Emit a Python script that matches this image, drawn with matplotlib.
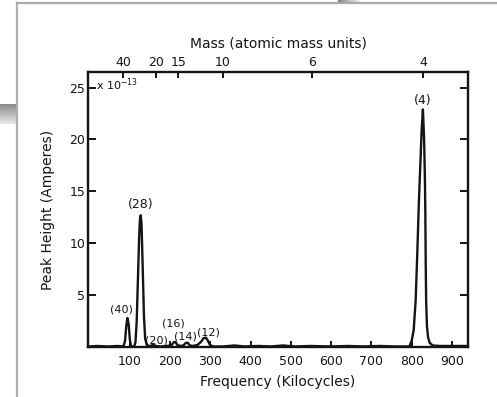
import numpy as np
import matplotlib.pyplot as plt
from matplotlib.lines import Line2D

# trace: frequency (kc) vs peak height (x 1e-13 A)
freq = [-4, 20, 45, 70, 84, 88, 91, 94, 97, 100, 103, 107, 111,
        114, 117, 120, 123, 125, 127, 129, 132, 135, 138, 142, 148,
        153, 158, 164, 175, 190, 203, 209, 213, 218, 225, 233, 239, 244, 249, 257,
        268, 277, 283, 289, 294, 299, 307, 330, 360, 385, 420, 450, 480, 510,
        550, 600, 640, 680, 720, 760, 790,
        795, 800, 805, 810, 814, 818, 822, 825, 828, 831, 833, 834, 835, 836,
        838, 841, 845, 852, 870, 900, 940]
height = [0.05, 0.1, 0.05, 0.1, 0.05, 0.6, 2.0, 2.8, 2.2, 0.7, 0.1, 0.05, 0.05,
          0.5, 2.5, 6.5, 10.5, 12.3, 12.7, 11.8, 7.5, 3.0, 0.8, 0.2, 0.1,
          0.12, 0.25, 0.1, 0.05, 0.1, 0.15, 0.45, 0.5, 0.2, 0.1, 0.15, 0.4, 0.4, 0.15, 0.1,
          0.2, 0.5, 0.85, 0.9, 0.6, 0.2, 0.05, 0.05, 0.15, 0.05, 0.1, 0.05, 0.15, 0.05,
          0.1, 0.05, 0.1, 0.05, 0.1, 0.05, 0.05,
          0.1, 0.6, 1.6, 4.5, 9.0, 14.0, 18.0, 21.0, 22.9, 20.0, 16.0, 13.0, 8.0, 4.5,
          2.0, 0.9, 0.4, 0.15, 0.1, 0.1, 0.1]

# peak labels (mass numbers) and where they sit
peak_labels = ['(40)', '(28)', '(20)', '(16)', '(14)', '(12)', '(4)']
label_x = [80, 127, 166, 207, 239, 294, 828]
label_y = [3.6, 13.7, 0.6, 2.3, 1.05, 1.35, 23.8]

freq_ticks = [100, 200, 300, 400, 500, 600, 700, 800, 900]
height_ticks = [5, 10, 15, 20, 25]
mass_ticks = [40, 20, 15, 10, 6, 4]
k_mass = 3312  # frequency = k / mass

ink = '#141414'

fig = plt.figure(figsize=(4.97, 3.97), dpi=100)
W, H = 497, 397
ax = fig.add_axes([88 / W, 1 - 347 / H, 380 / W, 275 / H])

ax.plot(freq, height, color=ink, lw=1.7, solid_joinstyle='round')
ax.set_xlim(-4, 940)
ax.set_ylim(0, 26.5)

for s in ax.spines.values():
    s.set_linewidth(1.7)
    s.set_color(ink)

ax.set_xticks(freq_ticks)
ax.set_yticks(height_ticks)
ax.tick_params(axis='x', direction='in', length=4, width=1.4, colors=ink,
               labelsize=9, pad=6, top=False)
ax.tick_params(axis='y', direction='in', length=6, width=1.4, colors=ink,
               labelsize=9, right=True, pad=2)

ax.set_xlabel('Frequency (Kilocycles)', fontsize=10, color=ink, labelpad=5)
ax.set_ylabel('Peak Height (Amperes)', fontsize=10, color=ink, labelpad=10)

ax2 = ax.twiny()
ax2.set_xlim(ax.get_xlim())
ax2.set_xticks([k_mass / m for m in mass_ticks])
ax2.set_xticklabels([str(m) for m in mass_ticks])
ax2.tick_params(axis='x', direction='in', length=4, width=1.4, colors=ink,
                labelsize=9, pad=2)
ax2.set_xlabel('Mass (atomic mass units)', fontsize=10, color=ink, labelpad=6)
for s in ax2.spines.values():
    s.set_visible(False)

for lab, x, y in zip(peak_labels, label_x, label_y):
    fs = 9 if lab in ('(4)', '(28)') else 8
    ax.text(x, y, lab, ha='center', va='center', fontsize=fs, color=ink)

ax.text(16, 25.3, r'x 10$^{-13}$', fontsize=8, color=ink, ha='left', va='center')

# scanned page frame
fig.add_artist(Line2D([17 / W, 17 / W], [0, 1 - 3 / H], color='#b0b0b0', lw=1.6))
fig.add_artist(Line2D([17 / W, 1], [1 - 3 / H, 1 - 3 / H], color='#a8a8a8', lw=1.6))
grad = np.linspace(0.55, 0.9, 20).reshape(-1, 1)
gax = fig.add_axes([0, 1 - 124 / H, 16 / W, 20 / H])
gax.imshow(np.repeat(grad, 10, axis=1), cmap='gray', vmin=0, vmax=1, aspect='auto')
gax.axis('off')
grad2 = np.linspace(0.5, 0.95, 22).reshape(1, -1)
tax = fig.add_axes([338 / W, 1 - 4 / H, 22 / W, 4 / H])
tax.imshow(np.repeat(grad2, 4, axis=0), cmap='gray', vmin=0, vmax=1, aspect='auto')
tax.axis('off')

fig.savefig('out.png', dpi=100)
